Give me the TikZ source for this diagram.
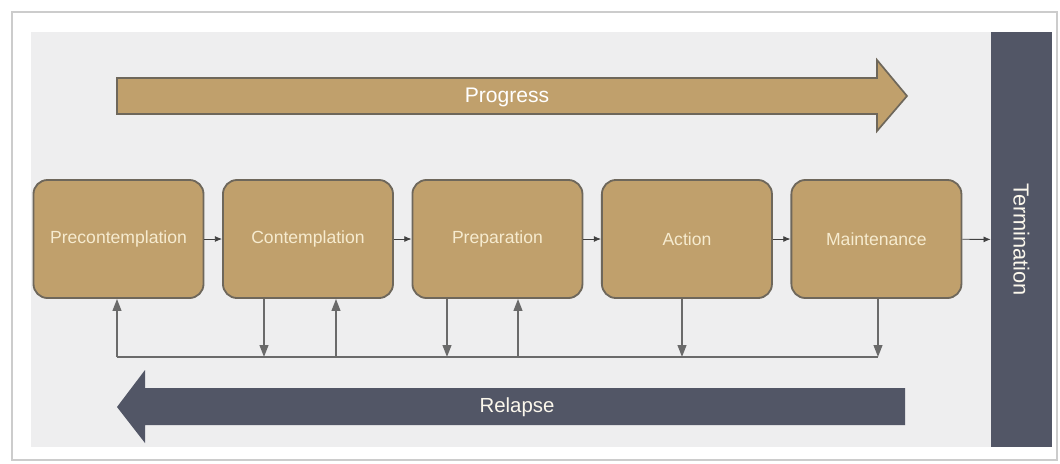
\documentclass[tikz,border=0pt]{standalone}
\usepackage{fontspec}
\setmainfont{Liberation Sans}
\usepackage{xcolor}
\usetikzlibrary{arrows.meta,positioning}

\definecolor{tan}{HTML}{C0A06C}
\definecolor{tanline}{HTML}{6E675B}
\definecolor{slate}{HTML}{525666}
\definecolor{cream}{HTML}{F6EBCF}
\definecolor{panel}{HTML}{EEEEEF}
\definecolor{wire}{HTML}{6A6A6A}

\begin{document}
\begin{tikzpicture}[
    x=0.025cm, y=-0.025cm,
    node distance=0.44cm,
    stage/.style={draw=tanline, line width=1.3pt, rounded corners=10pt, fill=tan, text=cream,
        minimum width=4.25cm, minimum height=2.95cm, font=\fontsize{12.5}{14}\selectfont},
    bigarrow/.style={line join=miter},
    label/.style={font=\fontsize{15}{17}\selectfont},
    stagearrow/.style={-{Latex[length=1.8mm,width=1.5mm]}, line width=0.6pt, draw=black!75},
    fbline/.style={line width=1.2pt, draw=wire},
    fbarrow/.style={fbline, -{Triangle[length=3mm,width=2.2mm]}}
]
\useasboundingbox (0,0) rectangle (1060,463);
% frame and panel
\draw[draw=black!20, fill=white, line width=0.8pt] (12,12) rectangle (1057,460);
\fill[panel] (31,32) rectangle (1052,447);

% progress arrow
\draw[bigarrow, fill=tan, draw=tanline, line width=1.2pt]
    (117,78) -- (877,78) -- (877,60) -- (907,96) -- (877,131) -- (877,114) -- (117,114) -- cycle;
\node[label, text=white] (progress) at (507,97) {Progress};

% stages
\node[stage] (pre) at (118.5,239) {Precontemplation};
\node[stage, right=of pre] (con) {Contemplation};
\node[stage, right=of con] (prep) {Preparation};
\node[stage, right=of prep] (act) {Action};
\node[stage, right=of act] (mai) {Maintenance};
\node[fill=slate, text=cream!40!white, rotate=-90, minimum width=10.375cm, minimum height=1.525cm,
    font=\fontsize{15.5}{17}\selectfont] (ter) at (1021.5,239.5) {Termination};

\draw[stagearrow] (pre) -- (con);
\draw[stagearrow] (con) -- (prep);
\draw[stagearrow] (prep) -- (act);
\draw[stagearrow] (act) -- (mai);
\draw[stagearrow] (mai) -- (ter);

% relapse return line
\coordinate (r1) at (117,357);
\coordinate (r2) at (264,357);
\coordinate (r3) at (336,357);
\coordinate (r4) at (447,357);
\coordinate (r5) at (518,357);
\coordinate (r6) at (682,357);
\coordinate (r7) at (878,357);
\draw[fbline] (r1) -- (r7);
\draw[fbarrow] (r1) -- (pre.south -| r1);
\draw[fbarrow] (con.south -| r2) -- (r2);
\draw[fbarrow] (r3) -- (con.south -| r3);
\draw[fbarrow] (prep.south -| r4) -- (r4);
\draw[fbarrow] (r5) -- (prep.south -| r5);
\draw[fbarrow] (act.south -| r6) -- (r6);
\draw[fbarrow] (mai.south -| r7) -- (r7);

% relapse arrow
\fill[slate] (117,407) -- (145,370) -- (145,388) -- (905,388) -- (905,425) -- (145,425) -- (145,443) -- cycle;
\node[label, text=cream!40!white, font=\fontsize{14.5}{17}\selectfont] (relapse) at (517,407) {Relapse};
\end{tikzpicture}
\end{document}
